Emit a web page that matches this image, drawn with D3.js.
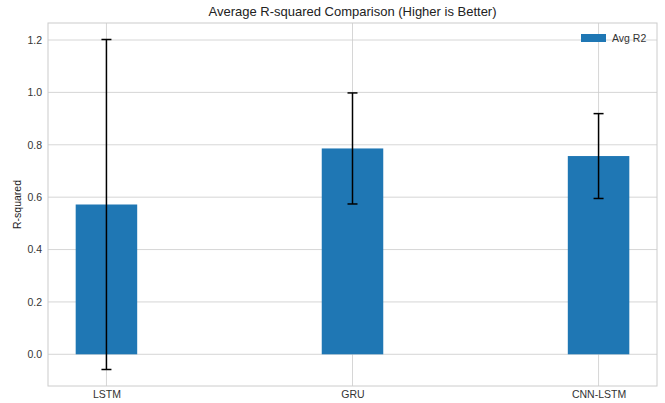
<!DOCTYPE html>
<html>
<head>
<meta charset="utf-8">
<script src="https://cdn.jsdelivr.net/npm/d3@7"></script>
<style>
  html, body { margin: 0; padding: 0; background: #fff; }
  svg { display: block; font-family: "Liberation Sans", Arial, sans-serif; }
</style>
</head>
<body>
<svg id="chart" width="665" height="403"></svg>
<script>
// Model names, mean R-squared and the standard deviation used for error bars
const models = ["LSTM", "GRU", "CNN-LSTM"];
const avgR2 = [0.572, 0.786, 0.757];
const stdR2 = [0.630, 0.212, 0.162];
const yTicks = [0.0, 0.2, 0.4, 0.6, 0.8, 1.0, 1.2];

const W = 665, H = 403;
const plot = { left: 48, right: 657, top: 23, bottom: 386 };
const barWidth = 0.25;

const svg = d3.select("#chart");

// Numeric x positions (0, 1, 2) with a 5% margin like the default autoscale
const xMin = -barWidth / 2, xMax = models.length - 1 + barWidth / 2;
const xPad = (xMax - xMin) * 0.05;
const x = d3.scaleLinear().domain([xMin - xPad, xMax + xPad]).range([plot.left, plot.right]);

const lows = avgR2.map((v, i) => Math.min(0, v - stdR2[i]));
const highs = avgR2.map((v, i) => v + stdR2[i]);
const yLo = d3.min(lows), yHi = d3.max(highs);
const yPad = (yHi - yLo) * 0.05;
const y = d3.scaleLinear().domain([yLo - yPad, yHi + yPad]).range([plot.bottom, plot.top]);

const gridColor = "#cccccc";

// Grid lines
const grid = svg.append("g");
grid.selectAll("line.hy").data(yTicks).join("line")
  .attr("x1", plot.left).attr("x2", plot.right)
  .attr("y1", d => y(d)).attr("y2", d => y(d))
  .attr("stroke", gridColor).attr("stroke-width", 0.8);
grid.selectAll("line.vx").data(models.map((_, i) => i)).join("line")
  .attr("y1", plot.top).attr("y2", plot.bottom)
  .attr("x1", d => x(d)).attr("x2", d => x(d))
  .attr("stroke", gridColor).attr("stroke-width", 0.8);

// Bars
svg.append("g").selectAll("rect").data(avgR2).join("rect")
  .attr("x", (d, i) => x(i - barWidth / 2))
  .attr("width", (d, i) => x(i + barWidth / 2) - x(i - barWidth / 2))
  .attr("y", d => y(Math.max(0, d)))
  .attr("height", d => Math.abs(y(d) - y(0)))
  .attr("fill", "#1f77b4");

// Error bars with caps
const err = svg.append("g").attr("stroke", "#000").attr("stroke-width", 1.5);
const cap = 5;
avgR2.forEach((v, i) => {
  const cx = x(i);
  const t = y(v + stdR2[i]), b = y(v - stdR2[i]);
  err.append("line").attr("x1", cx).attr("x2", cx).attr("y1", t).attr("y2", b);
  err.append("line").attr("x1", cx - cap).attr("x2", cx + cap).attr("y1", t).attr("y2", t);
  err.append("line").attr("x1", cx - cap).attr("x2", cx + cap).attr("y1", b).attr("y2", b);
});

// Frame
svg.append("rect")
  .attr("x", plot.left).attr("y", plot.top)
  .attr("width", plot.right - plot.left).attr("height", plot.bottom - plot.top)
  .attr("fill", "none").attr("stroke", gridColor).attr("stroke-width", 1);

// Y axis tick labels
const yAxis = d3.axisLeft(y).tickValues(yTicks).tickFormat(d3.format(".1f")).tickSize(0).tickPadding(6);
const gy = svg.append("g").attr("transform", `translate(${plot.left},0)`).call(yAxis);
gy.select(".domain").remove();
gy.selectAll("text").attr("fill", "#333").style("font-size", "10.5px")
  .style("font-family", "'Liberation Sans', Arial, sans-serif");

// X axis tick labels
const xAxis = d3.axisBottom(x).tickValues(models.map((_, i) => i)).tickFormat(i => models[i]).tickSize(0).tickPadding(5);
const gx = svg.append("g").attr("transform", `translate(0,${plot.bottom})`).call(xAxis);
gx.select(".domain").remove();
gx.selectAll("text").attr("fill", "#333").style("font-size", "10.5px")
  .style("font-family", "'Liberation Sans', Arial, sans-serif");

// Title
svg.append("text")
  .attr("x", (plot.left + plot.right) / 2).attr("y", 16)
  .attr("text-anchor", "middle").attr("fill", "#222")
  .style("font-size", "13px")
  .text("Average R-squared Comparison (Higher is Better)");

// Y label
svg.append("text")
  .attr("transform", `translate(21,${(plot.top + plot.bottom) / 2}) rotate(-90)`)
  .attr("text-anchor", "middle").attr("fill", "#222")
  .style("font-size", "10.5px")
  .text("R-squared");

// Legend
const lg = svg.append("g").attr("transform", `translate(581,34)`);
lg.append("rect").attr("width", 25).attr("height", 8).attr("fill", "#1f77b4");
lg.append("text").attr("x", 31).attr("y", 8).attr("fill", "#333")
  .style("font-size", "10.5px").text("Avg R2");
</script>
</body>
</html>
